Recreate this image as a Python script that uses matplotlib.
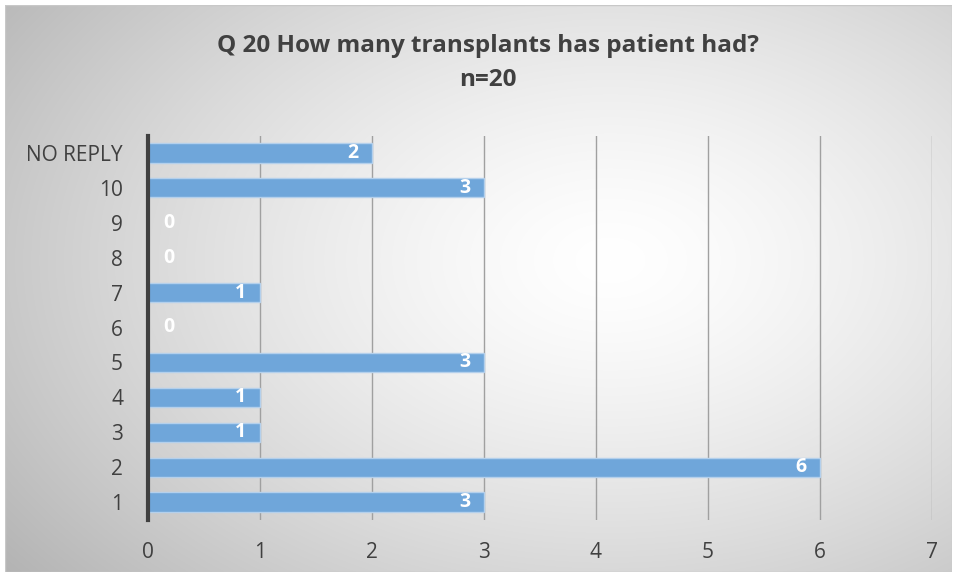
import matplotlib.pyplot as plt
import numpy as np

categories = ['1', '2', '3', '4', '5', '6', '7', '8', '9', '10', 'NO REPLY']
counts = [3, 6, 1, 1, 3, 0, 1, 0, 0, 3, 2]
title = 'Q 20 How many transplants has patient had?\nn=20'

plt.rcParams['font.family'] = ['Open Sans', 'DejaVu Sans']

W, H = 957, 577
fig = plt.figure(figsize=(W / 100, H / 100), dpi=100)

# radial gradient background
bg = fig.add_axes([0, 0, 1, 1])
yy, xx = np.mgrid[0:H, 0:W]
r = np.sqrt(((xx - 610) / 640.0) ** 2 + ((yy - 260) / 420.0) ** 2)
shade = 1.0 - 0.23 * np.clip(r, 0, 1.25) ** 1.4
img = np.dstack([shade, shade, shade])
bg.imshow(img, extent=[0, W, H, 0], aspect='auto')
bg.add_patch(plt.Rectangle((5, 5), W - 10, H - 10, fill=False, edgecolor='#c8c8c8', lw=1))
# white outer margin
for rect in [(0, 0, W, 5), (0, H - 5, W, 5), (0, 0, 5, H), (W - 5, 0, 5, H)]:
    bg.add_patch(plt.Rectangle(rect[:2], rect[2], rect[3], color='white', lw=0))
bg.set_xlim(0, W)
bg.set_ylim(H, 0)
bg.axis('off')

ax = fig.add_axes([148 / W, 1 - 519.5 / H, (932 - 148) / W, (519.5 - 135.5) / H])
ax.patch.set_alpha(0)
y = np.arange(len(categories))
ax.barh(y, counts, height=0.55, color='#6fa6da', edgecolor='#b4d0ec', linewidth=1, zorder=3)

for yi, v in zip(y, counts):
    if v == 0:
        ax.annotate(str(v), (v, yi), xytext=(11, 0), textcoords='offset points',
                    ha='left', va='center', color='white', fontsize=14, fontweight='bold', zorder=4)
    else:
        ax.annotate(str(v), (v, yi), xytext=(-10, 0), textcoords='offset points',
                    ha='right', va='center', color='white', fontsize=14, fontweight='bold', zorder=4)

ax.set_xlim(0, 7)
ax.set_ylim(-0.5, len(categories) - 0.5)
ax.set_xticks(range(8))
ax.set_yticks(y)
ax.set_yticklabels(categories)
ax.tick_params(axis='both', length=0, labelsize=15, colors='#404040')
ax.tick_params(axis='y', pad=18)
ax.tick_params(axis='x', pad=16)
ax.grid(axis='x', color='#a0a0a0', linewidth=1, zorder=0)
for s in ['top', 'right', 'bottom']:
    ax.spines[s].set_visible(False)
ax.spines['left'].set_color('#404040')
ax.spines['left'].set_linewidth(3)
ax.spines['left'].set_zorder(5)

fig.text(488 / W, 1 - 63 / H, title, ha='center', va='center', fontsize=17.5,
         fontweight='bold', color='#404040', linespacing=1.6)

fig.savefig('out.png', dpi=100)
